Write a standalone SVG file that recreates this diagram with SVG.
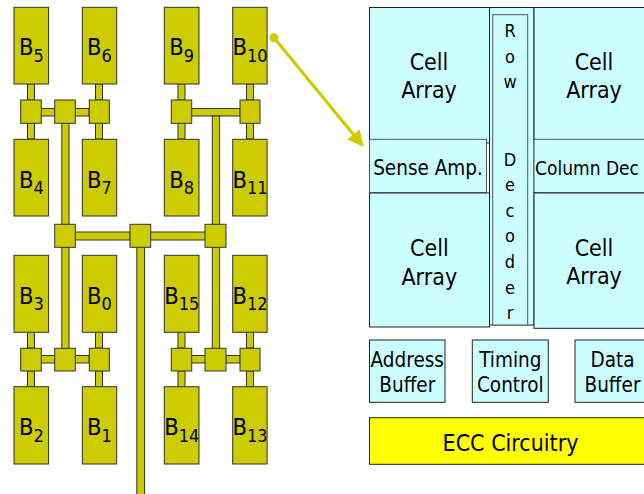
<svg xmlns="http://www.w3.org/2000/svg" width="644" height="494" viewBox="0 0 644 494">
<defs>
<style>
.blk{fill:#CCCC00;stroke:#333;stroke-width:1}
.rail{fill:#CCCC00;stroke:#333;stroke-width:1}
.sq{fill:#CCCC00;stroke:#333;stroke-width:1}
.bl{font-family:"DejaVu Sans Condensed","DejaVu Sans",sans-serif;font-size:23.5px;fill:#000;text-anchor:middle}
.sub{font-size:18px}
.cell{fill:#CCFFFF;stroke:#222;stroke-width:1}
.sh{fill:#CCFFFF;stroke:#555;stroke-width:1}
.t23{font-family:"DejaVu Sans Condensed","DejaVu Sans",sans-serif;font-size:23px;fill:#000;text-anchor:middle}
.t20{font-family:"DejaVu Sans Condensed","DejaVu Sans",sans-serif;font-size:20.5px;fill:#000;text-anchor:middle}
.t18{font-family:"DejaVu Sans Condensed","DejaVu Sans",sans-serif;font-size:18px;fill:#000;text-anchor:middle}
</style>
<marker id="ah" viewBox="0 0 10 10" refX="9" refY="5" markerWidth="5" markerHeight="5" orient="auto" markerUnits="strokeWidth">
<path d="M0,0 L10,5 L0,10 z" fill="#CCCC00"/>
</marker>
</defs>

<g id="connectors">
<rect class="rail" x="27.5" y="84" width="7" height="16"/>
<rect class="rail" x="27.5" y="123" width="7" height="16"/>
<rect class="rail" x="95.5" y="84" width="7" height="16"/>
<rect class="rail" x="95.5" y="123" width="7" height="16"/>
<rect class="rail" x="178" y="84" width="7" height="16"/>
<rect class="rail" x="178" y="123" width="7" height="16"/>
<rect class="rail" x="246.5" y="84" width="7" height="16"/>
<rect class="rail" x="246.5" y="123" width="7" height="16"/>
<rect class="rail" x="27.5" y="332" width="7" height="16"/>
<rect class="rail" x="27.5" y="371" width="7" height="16"/>
<rect class="rail" x="95.5" y="332" width="7" height="16"/>
<rect class="rail" x="95.5" y="371" width="7" height="16"/>
<rect class="rail" x="178" y="332" width="7" height="16"/>
<rect class="rail" x="178" y="371" width="7" height="16"/>
<rect class="rail" x="246.5" y="332" width="7" height="16"/>
<rect class="rail" x="246.5" y="371" width="7" height="16"/>
<rect class="rail" x="41" y="108.5" width="14" height="7.5"/>
<rect class="rail" x="75" y="108.5" width="14" height="7.5"/>
<rect class="rail" x="191.5" y="108.5" width="48.5" height="7.5"/>
<rect class="rail" x="75" y="232" width="55" height="8"/>
<rect class="rail" x="150.5" y="232" width="55" height="8"/>
<rect class="rail" x="41" y="355.5" width="14" height="7.5"/>
<rect class="rail" x="75" y="355.5" width="14" height="7.5"/>
<rect class="rail" x="191.5" y="355.5" width="14" height="7.5"/>
<rect class="rail" x="226" y="355.5" width="14" height="7.5"/>
<rect class="rail" x="61.8" y="123" width="7.2" height="101.5"/>
<rect class="rail" x="61.8" y="247" width="7.2" height="101.5"/>
<rect class="rail" x="212.3" y="116" width="7.3" height="108.5"/>
<rect class="rail" x="212.3" y="247" width="7.3" height="101.5"/>
<rect class="rail" x="136.8" y="247" width="7.8" height="250"/>
<rect class="sq" x="20.7" y="100" width="20.6" height="23.3"/>
<rect class="sq" x="54.7" y="100" width="20.6" height="23.3"/>
<rect class="sq" x="89.3" y="100" width="20" height="23.3"/>
<rect class="sq" x="171.3" y="100" width="20.4" height="23.3"/>
<rect class="sq" x="240" y="100" width="20" height="23.3"/>
<rect class="sq" x="54.7" y="224.3" width="20.6" height="23"/>
<rect class="sq" x="130" y="224.3" width="20.7" height="23"/>
<rect class="sq" x="205" y="224.3" width="21" height="23"/>
<rect class="sq" x="20.7" y="348.3" width="20.6" height="22.7"/>
<rect class="sq" x="54.7" y="348.3" width="20.6" height="22.7"/>
<rect class="sq" x="89.3" y="348.3" width="20" height="22.7"/>
<rect class="sq" x="171.3" y="348.3" width="20.4" height="22.7"/>
<rect class="sq" x="205" y="348.3" width="21" height="22.7"/>
<rect class="sq" x="240" y="348.3" width="20" height="22.7"/>
<circle cx="274" cy="37.7" r="4.5" fill="#CCCC00"/>
<line x1="274" y1="37.7" x2="362.5" y2="145.5" stroke="#CCCC00" stroke-width="3.2" marker-end="url(#ah)"/>
</g>

<g id="B5"><rect class="blk" x="14" y="7.3" width="34.6" height="76.7"/><text class="bl" x="31.3" y="55">B<tspan class="sub" dy="6.5">5</tspan></text></g>
<g id="B6"><rect class="blk" x="82.3" y="7.3" width="34.4" height="76.7"/><text class="bl" x="99.5" y="55">B<tspan class="sub" dy="6.5">6</tspan></text></g>
<g id="B9"><rect class="blk" x="164.3" y="7.3" width="34.7" height="76.7"/><text class="bl" x="181.7" y="55">B<tspan class="sub" dy="6.5">9</tspan></text></g>
<g id="B10"><rect class="blk" x="232.7" y="7.3" width="34.4" height="76.7"/><text class="bl" x="250" y="55">B<tspan class="sub" dy="6.5">10</tspan></text></g>

<g id="B4"><rect class="blk" x="14" y="139.3" width="34.6" height="76.7"/><text class="bl" x="31.3" y="187.5">B<tspan class="sub" dy="6.5">4</tspan></text></g>
<g id="B7"><rect class="blk" x="82.3" y="139.3" width="34.4" height="76.7"/><text class="bl" x="99.5" y="187.5">B<tspan class="sub" dy="6.5">7</tspan></text></g>
<g id="B8"><rect class="blk" x="164.3" y="139.3" width="34.7" height="76.7"/><text class="bl" x="181.7" y="187.5">B<tspan class="sub" dy="6.5">8</tspan></text></g>
<g id="B11"><rect class="blk" x="232.7" y="139.3" width="34.4" height="76.7"/><text class="bl" x="250" y="187.5">B<tspan class="sub" dy="6.5">11</tspan></text></g>

<g id="B3"><rect class="blk" x="14" y="255.3" width="34.6" height="77"/><text class="bl" x="31.3" y="303.5">B<tspan class="sub" dy="6.5">3</tspan></text></g>
<g id="B0"><rect class="blk" x="82.3" y="255.3" width="34.4" height="77"/><text class="bl" x="99.5" y="303.5">B<tspan class="sub" dy="6.5">0</tspan></text></g>
<g id="B15"><rect class="blk" x="164.3" y="255.3" width="34.7" height="77"/><text class="bl" x="181.7" y="303.5">B<tspan class="sub" dy="6.5">15</tspan></text></g>
<g id="B12"><rect class="blk" x="232.7" y="255.3" width="34.4" height="77"/><text class="bl" x="250" y="303.5">B<tspan class="sub" dy="6.5">12</tspan></text></g>

<g id="B2"><rect class="blk" x="14" y="386.7" width="34.6" height="77.3"/><text class="bl" x="31.3" y="435">B<tspan class="sub" dy="6.5">2</tspan></text></g>
<g id="B1"><rect class="blk" x="82.3" y="386.7" width="34.4" height="77.3"/><text class="bl" x="99.5" y="435">B<tspan class="sub" dy="6.5">1</tspan></text></g>
<g id="B14"><rect class="blk" x="164.3" y="386.7" width="34.7" height="77.3"/><text class="bl" x="181.7" y="435">B<tspan class="sub" dy="6.5">14</tspan></text></g>
<g id="B13"><rect class="blk" x="232.7" y="386.7" width="34.4" height="77.3"/><text class="bl" x="250" y="435">B<tspan class="sub" dy="6.5">13</tspan></text></g>

<g id="row-decoder">
<rect class="cell" x="489.5" y="7.5" width="44.5" height="317.5"/>
<rect class="sh" x="492.7" y="14.7" width="35" height="310.3"/>
<text class="t18" x="510"><tspan x="510" y="37">R</tspan><tspan x="510" y="62.6">o</tspan><tspan x="510" y="88.2">w</tspan><tspan x="510" y="165.5">D</tspan><tspan x="510" y="191">e</tspan><tspan x="510" y="216.7">c</tspan><tspan x="510" y="242.3">o</tspan><tspan x="510" y="268">d</tspan><tspan x="510" y="293.5">e</tspan><tspan x="510" y="319.2">r</tspan></text>
</g>
<g id="cell-array-tl"><rect class="cell" x="369.5" y="7.5" width="120" height="135.5"/><text class="t23" x="429"><tspan x="429" y="70">Cell</tspan><tspan x="429" y="97.7">Array</tspan></text></g>
<g id="cell-array-tr"><rect class="cell" x="534" y="7.5" width="116" height="135.5"/><text class="t23" x="594"><tspan x="594" y="70">Cell</tspan><tspan x="594" y="97.7">Array</tspan></text></g>
<g id="sense-amp"><rect class="sh" x="369.5" y="139.3" width="117" height="53.4"/><text class="t20" x="428" y="174.5">Sense Amp.</text></g>
<g id="column-dec"><rect class="sh" x="534" y="139.3" width="116" height="53.4"/><text class="t20" x="535" y="174.5" style="text-anchor:start;font-size:19px">Column Dec</text></g>
<g id="cell-array-bl"><rect class="cell" x="369.5" y="193" width="120" height="134"/><text class="t23" x="429.3"><tspan x="429.3" y="256">Cell</tspan><tspan x="429.3" y="284.5">Array</tspan></text></g>
<g id="cell-array-br"><rect class="cell" x="534" y="193" width="116" height="135.3"/><text class="t23" x="594"><tspan x="594" y="255.5">Cell</tspan><tspan x="594" y="284">Array</tspan></text></g>

<g id="address-buffer"><rect class="cell" x="369.5" y="340" width="75.5" height="62.3"/><text class="t20" x="407.3"><tspan x="407.3" y="366.7">Address</tspan><tspan x="407.3" y="391.7">Buffer</tspan></text></g>
<g id="timing-control"><rect class="cell" x="472.3" y="340" width="76" height="62.3"/><text class="t20" x="510.3"><tspan x="510.3" y="366.7">Timing</tspan><tspan x="510.3" y="391.7">Control</tspan></text></g>
<g id="data-buffer"><rect class="cell" x="575" y="340" width="75" height="62.3"/><text class="t20" x="612.5"><tspan x="612.5" y="366.7">Data</tspan><tspan x="612.5" y="391.7">Buffer</tspan></text></g>
<g id="ecc"><rect x="369.5" y="417.7" width="282" height="46.6" fill="#FFFF00" stroke="#222" stroke-width="1"/><text class="t23" x="510.5" y="451">ECC Circuitry</text></g>
</svg>
